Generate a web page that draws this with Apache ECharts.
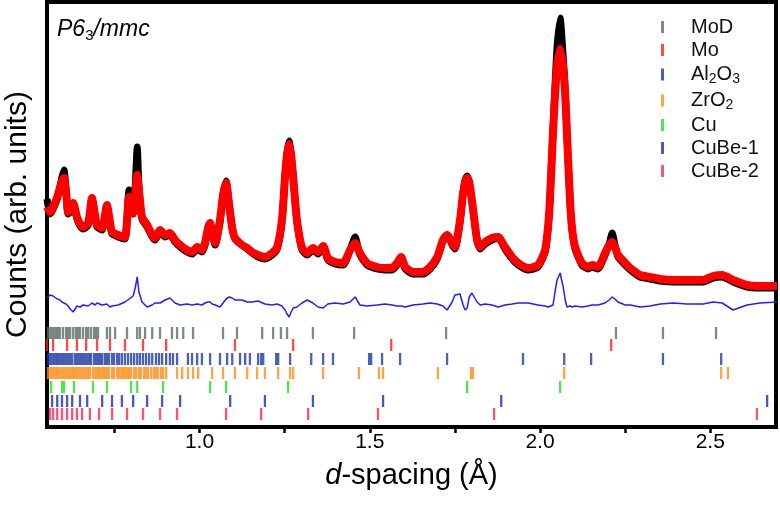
<!DOCTYPE html>
<html>
<head>
<meta charset="utf-8">
<script src="https://cdn.jsdelivr.net/npm/echarts@6/dist/echarts.min.js"></script>
<style>
  html, body { margin: 0; padding: 0; background: #fff; }
  #chart { width: 780px; height: 508px; }
</style>
</head>
<body>
<div id="chart"></div>
<script>
// d-spacing grid (Å) of the profile
const dGrid = [0.552,0.561,0.570,0.582,0.590,0.596,0.602,0.608,0.614,0.620,
  0.629,0.640,0.649,0.658,0.673,0.684,0.693,0.699,0.714,0.728,
  0.737,0.743,0.761,0.781,0.793,0.805,0.811,0.817,0.822,0.831,
  0.846,0.861,0.869,0.884,0.899,0.913,0.928,0.943,0.963,0.978,
  0.993,1.007,1.016,1.025,1.031,1.037,1.046,1.060,1.069,1.078,
  1.087,1.096,1.104,1.125,1.140,1.154,1.172,1.192,1.213,1.228,
  1.242,1.251,1.257,1.263,1.269,1.275,1.286,1.301,1.316,1.333,
  1.348,1.363,1.377,1.398,1.422,1.442,1.457,1.471,1.492,1.521,
  1.545,1.565,1.580,1.592,1.604,1.627,1.656,1.677,1.698,1.715,
  1.727,1.742,1.750,1.765,1.774,1.780,1.786,1.792,1.800,1.815,
  1.824,1.839,1.859,1.877,1.897,1.918,1.936,1.965,1.994,2.015,
  2.024,2.029,2.038,2.044,2.050,2.059,2.068,2.074,2.079,2.088,
  2.094,2.103,2.123,2.141,2.153,2.170,2.191,2.203,2.212,2.220,
  2.229,2.250,2.265,2.294,2.323,2.353,2.391,2.432,2.479,2.508,
  2.535,2.567,2.608,2.646,2.696]

// observed counts (arb. units)
const obsI = [228,213,218,228,240,250,257,236,213,215,
  222,208,201,198,202,229,210,200,197,221,
  203,193,190,188,237,213,240,280,240,208,
  200,190,187,195,190,192,185,180,175,173,
  178,175,182,198,204,193,182,205,232,246,
  222,199,188,182,178,174,170,168,172,178,
  205,250,274,286,272,250,206,177,172,177,
  173,179,167,163,162,177,190,172,162,158,
  157,157,162,169,158,153,153,158,168,186,
  192,182,178,205,234,247,251,245,225,187,
  178,183,187,189,178,168,162,157,160,175,
  200,226,296,340,380,409,370,335,294,226,
  197,178,162,158,160,158,172,183,194,182,
  170,162,157,150,148,146,145,145,145,149,
  150,145,140,139,139]

// calculated profile
const calcI = [220,215,220,230,239,246,249,235,215,217,
  224,210,203,200,204,229,212,202,199,222,
  205,195,192,190,230,214,232,252,237,210,
  202,192,189,197,192,194,187,182,177,175,
  180,177,184,199,204,195,184,207,232,244,
  222,199,189,182,179,175,172,170,174,180,
  207,250,272,283,272,250,207,179,174,179,
  175,181,169,165,164,177,184,174,164,160,
  159,159,164,170,160,155,155,160,170,187,
  192,184,180,207,234,245,249,245,227,187,
  180,185,189,190,180,170,164,159,162,177,
  202,227,294,332,360,378,360,332,294,227,
  199,180,164,160,162,160,174,182,185,180,
  172,164,159,152,150,148,147,147,147,151,
  152,147,142,141,141]

// difference curve (offset)
const diffI = [129,132,131,128,127,125,124,123,121,118,
  115,121,120,122,121,124,122,124,122,123,
  120,121,122,125,128,131,139,150,135,125,
  120,122,124,124,127,129,124,122,123,122,
  123,122,124,125,125,123,122,120,124,128,
  130,129,127,127,125,125,126,123,122,123,
  121,117,113,110,115,119,120,124,127,124,
  120,119,123,124,123,125,130,122,121,122,
  123,122,121,121,120,122,123,124,123,121,
  117,125,132,133,122,117,119,130,134,125,
  122,123,122,120,122,123,124,124,122,121,
  120,120,122,135,147,154,140,127,120,121,
  120,121,120,121,122,122,124,127,130,128,
  125,122,122,120,121,123,124,123,123,125,
  124,117,122,124,125]

// reflection positions (Å) per phase
const moDTicks = [0.555,0.561,0.567,0.573,0.579,0.584,0.590,0.599,0.608,0.614,0.620,0.629,0.637,0.643,
  0.649,0.658,0.667,0.673,0.681,0.690,0.696,0.702,0.728,0.737,0.752,0.787,0.817,0.825,0.840,0.861,
  0.884,0.919,0.934,0.952,0.981,1.069,1.110,1.184,1.216,1.239,1.257,1.333,1.454,1.724,2.223,2.361,2.517]
const moTicks = [0.552,0.570,0.611,0.640,0.667,0.699,0.737,0.781,0.834,0.902,1.104,1.275,1.563,2.209]
const al2o3Ticks = [0.555,0.561,0.567,0.573,0.579,0.584,0.590,0.596,0.602,0.608,0.614,0.620,0.626,0.634,
  0.640,0.646,0.652,0.658,0.664,0.670,0.676,0.681,0.690,0.696,0.702,0.708,0.714,0.722,0.728,0.734,
  0.743,0.749,0.758,0.764,0.772,0.781,0.790,0.799,0.808,0.817,0.825,0.834,0.843,0.852,0.861,0.872,
  0.881,0.890,0.902,0.913,0.922,0.934,0.966,0.978,0.993,1.007,1.031,1.060,1.081,1.096,1.119,1.134,
  1.148,1.172,1.181,1.187,1.225,1.231,1.266,1.328,1.363,1.392,1.498,1.504,1.536,1.589,1.727,1.950,
  2.071,2.150,2.361,2.532]
const zro2Ticks = [0.555,0.561,0.567,0.573,0.579,0.584,0.590,0.596,0.602,0.608,0.614,0.620,0.626,0.631,
  0.637,0.643,0.649,0.655,0.661,0.667,0.673,0.678,0.687,0.693,0.699,0.705,0.711,0.717,0.722,0.728,
  0.734,0.743,0.749,0.758,0.764,0.770,0.775,0.781,0.787,0.793,0.799,0.808,0.814,0.822,0.828,0.837,
  0.843,0.849,0.858,0.866,0.872,0.878,0.887,0.893,0.902,0.934,0.949,0.966,0.981,0.996,1.037,1.069,
  1.104,1.140,1.169,1.192,1.231,1.266,1.275,1.363,1.468,1.527,1.539,1.700,1.797,1.803,2.071,2.532,2.552]
const cuTicks = [0.564,0.596,0.602,0.631,0.687,0.728,0.799,0.817,0.893,1.031,1.078,1.260,1.786,2.059]
const cuBe1Ticks = [0.567,0.582,0.596,0.611,0.626,0.649,0.670,0.714,0.743,0.772,0.805,0.846,0.890,0.943,
  1.090,1.192,1.333,1.539,1.886,2.667]
const cuBe2Ticks = [0.561,0.570,0.582,0.596,0.611,0.626,0.640,0.655,0.678,0.705,0.743,0.787,0.834,0.884,
  0.934,1.078,1.181,1.319,1.524,1.865,2.637]

const xTickValues = [0.75, 1.0, 1.25, 1.5, 1.75, 2.0, 2.25, 2.5]
const xLabelValues = [1.0, 1.5, 2.0, 2.5]

const FONT = 'Liberation Sans, Arial, Helvetica, sans-serif'

const phases = [
  { name: 'MoD', ticks: moDTicks, level: 94, color: '#5b6e6a', label: '{n|MoD}' },
  { name: 'Mo', ticks: moTicks, level: 82, color: '#ff1a1a', label: '{n|Mo}' },
  { name: 'Al2O3', ticks: al2o3Ticks, level: 68, color: '#1c3aa6', label: '{n|Al}{s|2}{n|O}{s|3}' },
  { name: 'ZrO2', ticks: zro2Ticks, level: 54, color: '#ff8c14', label: '{n|ZrO}{s|2}' },
  { name: 'Cu', ticks: cuTicks, level: 40, color: '#22e022', label: '{n|Cu}' },
  { name: 'CuBe-1', ticks: cuBe1Ticks, level: 26, color: '#1f2db8', label: '{n|CuBe-1}' },
  { name: 'CuBe-2', ticks: cuBe2Ticks, level: 13, color: '#ff2452', label: '{n|CuBe-2}' }
]

const zip = (xs, ys) => xs.map((x, i) => [x, ys[i]])

const tickSeries = phases.map(p => ({
  name: p.name,
  type: 'scatter',
  symbol: 'rect',
  symbolSize: [2.3, 12],
  itemStyle: { color: p.color },
  data: p.ticks.map(d => [d, p.level]),
  z: 4
}))

const labelMap = {}
phases.forEach(p => { labelMap[p.name] = p.label })

const chart = echarts.init(document.getElementById('chart'), null, { renderer: 'canvas' })
chart.setOption({
  animation: false,
  backgroundColor: '#fff',
  title: {
    text: '{i|P6}{s|3}{i|/mmc}',
    left: 52,
    top: 12,
    textStyle: {
      fontWeight: 'normal',
      rich: {
        i: { fontFamily: FONT, fontStyle: 'italic', fontWeight: 'normal', fontSize: 23, color: '#000', lineHeight: 26 },
        s: { fontFamily: FONT, fontWeight: 'normal', fontSize: 15, color: '#000', lineHeight: 26, padding: [11, 0, 0, 0] }
      }
    }
  },
  legend: {
    data: phases.map(p => p.name),
    orient: 'vertical',
    left: 656,
    top: 12,
    icon: 'rect',
    itemWidth: 3,
    itemHeight: 12,
    itemGap: 3,
    formatter: name => labelMap[name],
    textStyle: {
      padding: [0, 0, 0, 22],
      rich: {
        n: { fontFamily: FONT, fontSize: 20, color: '#111', lineHeight: 21 },
        s: { fontFamily: FONT, fontSize: 14, color: '#111', lineHeight: 21, padding: [9, 0, 0, 0] }
      }
    }
  },
  grid: {
    left: 47,
    right: 4,
    top: 2,
    bottom: 81,
    outerBoundsMode: 'none',
    containLabel: false,
    show: true,
    borderColor: '#000',
    borderWidth: 4
  },
  xAxis: {
    type: 'value',
    min: 0.552,
    max: 2.693,
    name: '{i|d}{n|-spacing (Å)}',
    nameLocation: 'middle',
    nameGap: 34,
    nameTextStyle: {
      rich: {
        i: { fontFamily: FONT, fontStyle: 'italic', fontSize: 29, color: '#000' },
        n: { fontFamily: FONT, fontSize: 29, color: '#000' }
      }
    },
    axisLine: { show: true, lineStyle: { color: '#000', width: 4 } },
    axisTick: {
      show: true,
      customValues: xTickValues,
      inside: false,
      length: 6,
      lineStyle: { color: '#000', width: 2.5 }
    },
    axisLabel: {
      customValues: xLabelValues,
      formatter: v => v.toFixed(1),
      fontFamily: FONT,
      fontSize: 21,
      color: '#000',
      margin: 5
    },
    splitLine: { show: false }
  },
  yAxis: {
    type: 'value',
    min: 0,
    max: 425,
    name: 'Counts (arb. units)',
    nameLocation: 'middle',
    nameGap: 14,
    nameTextStyle: { fontFamily: FONT, fontSize: 30, color: '#000' },
    axisLine: { show: true, lineStyle: { color: '#000', width: 4 } },
    axisTick: { show: false },
    axisLabel: { show: false },
    splitLine: { show: false }
  },
  series: [
    {
      name: 'diff',
      type: 'line',
      data: zip(dGrid, diffI),
      showSymbol: false,
      lineStyle: { color: '#1f1fff', width: 1.5 },
      z: 2
    },
    {
      name: 'obs',
      type: 'line',
      data: zip(dGrid, obsI),
      showSymbol: false,
      smooth: 0.2,
      lineStyle: { color: '#000', width: 7 },
      z: 2
    },
    {
      name: 'calc',
      type: 'line',
      data: zip(dGrid, calcI),
      showSymbol: false,
      smooth: 0.2,
      lineStyle: { color: '#ff0000', width: 8 },
      z: 3
    }
  ].concat(tickSeries)
})
</script>
</body>
</html>
